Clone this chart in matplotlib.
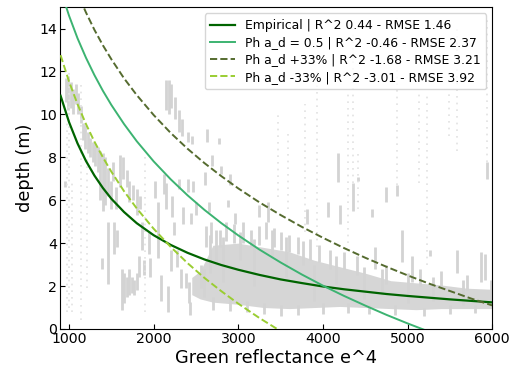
import matplotlib
matplotlib.use('Agg')
import matplotlib.pyplot as plt

# model curves, values
curve_x = [900, 1000, 1100, 1200, 1300, 1400, 1500, 1650, 1800, 2000, 2200, 2400, 2600, 2800,
           3000, 3250, 3500, 3750, 4000, 4250, 4500, 4750, 5000, 5250, 5500, 5750, 6000]
empirical = [10.87, 9.64, 8.65, 7.83, 7.15, 6.57, 6.07, 5.45, 4.93, 4.37, 3.92, 3.55, 3.24, 2.98,
             2.76, 2.52, 2.31, 2.14, 1.98, 1.85, 1.74, 1.63, 1.54, 1.46, 1.38, 1.31, 1.24]
ph_05 = [15.81, 14.60, 13.55, 12.64, 11.83, 11.10, 10.44, 9.55, 8.75, 7.81, 6.98, 6.23, 5.55, 4.93,
         4.36, 3.70, 3.10, 2.54, 2.02, 1.54, 1.09, 0.66, 0.26, -0.12, -0.48, -0.83, -1.16]
ph_plus = [17.88, 16.68, 15.65, 14.75, 13.94, 13.22, 12.57, 11.68, 10.90, 9.97, 9.14, 8.40, 7.73, 7.12,
           6.55, 5.90, 5.31, 4.76, 4.25, 3.77, 3.32, 2.90, 2.50, 2.12, 1.77, 1.42, 1.10]
ph_minus = [12.76, 11.53, 10.48, 9.55, 8.73, 8.00, 7.33, 6.42, 5.62, 4.67, 3.83, 3.07, 2.38, 1.76,
            1.18, 0.51, -0.10, -0.66, -1.18, -1.67, -2.13, -2.56, -2.96, -3.35, -3.72, -4.07, -4.40]

labels = ['Empirical | R^2 0.44 - RMSE 1.46',
          'Ph a_d = 0.5 | R^2 -0.46 - RMSE 2.37',
          'Ph a_d +33% | R^2 -1.68 - RMSE 3.21',
          'Ph a_d -33% | R^2 -3.01 - RMSE 3.92']

# dense band of observations (x, lower depth, upper depth)
band_x = [2450, 2550, 2700, 3000, 3300, 3600, 3900, 4200, 4500, 4800, 5100, 5400, 5700, 6000]
band_lo = [1.6, 1.4, 1.25, 1.15, 1.0, 0.95, 1.0, 1.05, 1.0, 0.95, 0.9, 0.95, 0.95, 0.95]
band_hi = [2.4, 2.7, 3.9, 4.0, 3.8, 3.6, 3.2, 2.9, 2.6, 2.25, 2.15, 2.05, 1.9, 1.85]

# vertical streaks of observations
streak_x = [960, 990, 1020, 1050, 1080, 1110, 1140,
            1160, 1190, 1220, 1250, 1280, 1310, 1340, 1370, 1400, 1430, 1460, 1490, 1520, 1550,
            1600, 1640, 1680, 1710, 1750, 1800, 1840,
            1390, 1460, 1530, 1570, 1620, 1650, 1680, 1710, 1740, 1770, 1800, 1830, 1860, 1880,
            1940, 1960, 2020, 2050, 2090, 2120, 2150, 2175, 2200, 2220, 2240, 2280, 2300, 2320,
            2350, 2380, 2400, 2420, 2430, 2440, 2460, 2500,
            2150, 2180, 2210, 2250, 2300, 2340, 2400, 2450,
            2630, 2650, 2690, 2610, 2775, 2800, 2880, 2900, 2960, 3245, 3350, 3810, 4060, 4180, 4200,
            2620, 2680, 2780, 2850, 2950, 3050, 3150, 3250, 3330, 3420, 3500, 3600, 3700, 3850,
            3950, 4080, 4250, 4400, 4620, 4750, 4930, 5050, 5150, 5270, 5400, 5580, 5700, 5870, 5920,
            4357, 4417, 4580, 4747, 4877, 5940,
            2700, 2900, 3100, 3300, 3500, 3700, 4000, 4300, 4550, 4850, 5200, 5500, 5800, 950,
            2560, 2600, 2660, 2740, 2820, 3020, 3180, 3400, 3560, 3760, 3900, 4150, 4480, 4700,
            5000, 5300, 5650, 5980]
streak_lo = [10.6, 10.2, 10.3, 10.0, 10.5, 10.0, 9.6,
             8.8, 8.4, 8.2, 8.0, 7.8, 7.6, 7.3, 6.0, 5.5, 5.8, 6.2, 5.6, 6.9, 5.6,
             6.6, 7.0, 6.6, 5.9, 6.0, 5.3, 5.6,
             2.8, 2.1, 3.5, 3.8, 0.9, 1.2, 1.5, 1.6, 1.7, 1.6, 1.8, 2.4, 3.7, 2.5,
             3.5, 2.4, 6.1, 3.3, 1.3, 6.3, 5.6, 0.8, 2.7, 5.2, 4.4, 2.9, 6.5, 1.9,
             4.9, 1.9, 6.4, 1.2, 0.65, 4.9, 6.4, 5.3,
             10.2, 10.0, 10.3, 9.8, 9.2, 9.0, 8.7, 8.6,
             8.7, 5.45, 7.6, 6.7, 8.6, 7.2, 5.7, 6.7, 4.9, 5.2, 5.0, 4.9, 5.2, 6.85, 4.9,
             3.8, 4.0, 3.8, 4.1, 4.0, 4.0, 3.8, 3.9, 4.2, 3.8, 3.7, 3.6, 3.5, 3.2,
             3.1, 2.8, 2.8, 2.5, 2.8, 2.1, 3.1, 2.2, 2.0, 3.4, 1.9, 2.6, 1.8, 2.2, 2.3,
             5.5, 6.9, 5.2, 5.9, 6.2, 7.0,
             0.9, 0.85, 0.8, 0.7, 0.6, 0.65, 0.7, 0.75, 0.7, 0.65, 0.6, 0.7, 0.75, 6.6,
             1.9, 1.5, 2.6, 3.0, 2.2, 3.2, 2.0, 3.3, 2.4, 3.0, 1.3, 2.1, 1.4, 1.6,
             1.2, 1.3, 1.1, 1.2]
streak_hi = [11.7, 11.8, 11.5, 11.2, 11.4, 11.0, 10.4,
             9.6, 9.5, 9.2, 8.9, 8.7, 8.6, 8.5, 8.3, 8.2, 8.0, 7.5, 6.9, 7.8, 6.6,
             8.1, 8.0, 7.4, 6.9, 6.7, 6.5, 6.2,
             3.3, 5.0, 5.0, 4.6, 2.8, 2.6, 2.4, 2.8, 2.4, 2.3, 2.6, 3.4, 5.0, 3.2,
             4.5, 3.3, 6.9, 5.9, 2.5, 7.2, 6.8, 2.0, 3.7, 6.2, 5.0, 3.7, 7.0, 2.8,
             5.7, 2.6, 7.0, 2.2, 1.25, 5.4, 6.9, 5.9,
             11.6, 11.6, 11.4, 10.8, 10.2, 9.8, 9.2, 9.0,
             9.3, 5.9, 8.1, 7.3, 8.9, 7.6, 6.0, 7.2, 5.4, 5.8, 5.9, 5.6, 5.9, 8.2, 5.8,
             4.8, 5.0, 4.6, 5.0, 4.9, 5.0, 4.6, 4.8, 5.0, 4.7, 4.5, 4.4, 4.3, 4.2,
             3.9, 3.7, 3.6, 3.4, 3.8, 3.0, 4.6, 3.4, 2.8, 3.7, 2.7, 3.7, 2.5, 3.6, 3.5,
             6.8, 7.1, 5.6, 6.6, 6.7, 7.8,
             1.5, 1.4, 1.3, 1.2, 1.1, 1.1, 1.2, 1.2, 1.1, 1.1, 1.0, 1.1, 1.1, 6.9,
             3.0, 2.8, 4.4, 4.6, 4.3, 4.5, 4.2, 4.6, 4.3, 4.1, 3.0, 3.4, 2.9, 2.8,
             2.6, 2.4, 2.3, 2.3]

# sparse single-pixel columns
faint_x = [975, 1000, 1040, 1140, 1210, 1900, 3470, 3590, 3790, 3930, 4300,
           4357, 4417, 4877, 5137, 5232, 5492, 5586, 5940]
faint_lo = [0.8, 1.0, 0.8, 0.4, 1.9, 0.8, 6.15, 5.6, 4.5, 3.8, 4.0,
            6.8, 5.6, 6.7, 6.8, 3.0, 9.0, 8.3, 7.8]
faint_hi = [9.6, 12.0, 6.9, 11.5, 8.0, 8.0, 10.0, 9.2, 10.5, 12.0, 11.0,
            14.0, 8.4, 14.5, 11.0, 11.0, 11.0, 14.0, 14.5]

fig = plt.figure(figsize=(5.09, 3.73), dpi=100)
ax = fig.add_axes([0.118, 0.118, 0.849, 0.863])

ax.fill_between(band_x, band_lo, band_hi, color='#d6d6d6', lw=0, zorder=1)
ax.vlines(streak_x, streak_lo, streak_hi, colors='#d3d3d3', lw=2.0, zorder=1)
ax.vlines(faint_x, faint_lo, faint_hi, colors='#e2e2e2', lw=1.2,
          linestyles=(0, (1, 3)), zorder=1)

ax.plot(curve_x, empirical, color='darkgreen', lw=1.6, label=labels[0], zorder=3)
ax.plot(curve_x, ph_05, color='mediumseagreen', lw=1.4, label=labels[1], zorder=3)
ax.plot(curve_x, ph_plus, color='darkolivegreen', lw=1.4, ls='--', label=labels[2], zorder=3)
ax.plot(curve_x, ph_minus, color='yellowgreen', lw=1.4, ls='--', label=labels[3], zorder=3)

ax.set_xlim(894, 6000)
ax.set_ylim(0, 15)
ax.set_xticks([1000, 2000, 3000, 4000, 5000, 6000])
ax.set_yticks([0, 2, 4, 6, 8, 10, 12, 14])
ax.tick_params(direction='in', labelsize=10.2, pad=2)
ax.set_xlabel('Green reflectance e^4', fontsize=12.8, labelpad=2)
ax.set_ylabel('depth (m)', fontsize=12.8, labelpad=4)
ax.legend(loc='upper right', fontsize=8.9, handlelength=2.0, labelspacing=0.35,
          borderpad=0.45)

fig.savefig('out.png', dpi=100)
